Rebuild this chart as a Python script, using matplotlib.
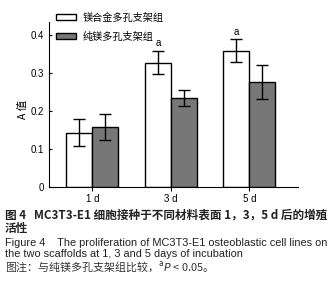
import numpy as np
import matplotlib
matplotlib.use("Agg")
import matplotlib.pyplot as plt
from matplotlib.patches import Patch

plt.rcParams["font.family"] = ["Liberation Sans", "Noto Sans CJK SC", "DejaVu Sans"]

days = ["1 d", "3 d", "5 d"]
groups = ["镁合金多孔支架组", "纯镁多孔支架组"]
alloy_mean = [0.143, 0.327, 0.358]
alloy_err = [0.035, 0.030, 0.030]
pure_mean = [0.158, 0.234, 0.276]
pure_err = [0.035, 0.020, 0.044]
sig = ["", "a", "a"]

fig = plt.figure(figsize=(3.36, 3.0), dpi=100)
ax = fig.add_axes([0.146, 0.377, 0.741, 0.55])

x = np.arange(1, len(days) + 1)
w = 0.33
ekw = dict(ecolor="black", elinewidth=1.0, capthick=1.0)
ax.bar(x - w / 2, alloy_mean, w, yerr=alloy_err, color="white", edgecolor="black",
       lw=1.0, capsize=4.5, error_kw=ekw)
ax.bar(x + w / 2, pure_mean, w, yerr=pure_err, color="#777777", edgecolor="black",
       lw=1.0, capsize=4.5, error_kw=ekw)
for xi, m, e, s in zip(x, alloy_mean, alloy_err, sig):
    if s:
        ax.annotate(s, (xi - w / 2, m + e), xytext=(0, 2), textcoords="offset points",
                    ha="center", va="bottom", fontsize=7)

ax.set_xlim(0.45, 3.62)
ax.set_ylim(0, 0.434)
ax.set_xticks(x)
ax.set_xticklabels(days, fontsize=7)
ax.set_yticks([0, 0.1, 0.2, 0.3, 0.4])
ax.set_yticklabels(["0", "0.1", "0.2", "0.3", "0.4"], fontsize=7)
ax.tick_params(axis="y", length=2, width=0.8, direction="in", pad=4)
ax.tick_params(axis="x", length=3, width=0.8, pad=2)
ax.spines["top"].set_visible(False)
ax.spines["right"].set_visible(False)
ax.set_ylabel("A 值", fontsize=7.5, family=["Noto Sans CJK SC", "DejaVu Sans"])
ax.yaxis.set_label_coords(-0.085, 0.47)

handles = [Patch(facecolor="white", edgecolor="black", lw=1.0),
           Patch(facecolor="#777777", edgecolor="black", lw=1.0)]
ax.legend(handles, groups, loc="upper left", bbox_to_anchor=(0.168, 0.958),
          bbox_transform=fig.transFigure, frameon=False, borderpad=0, borderaxespad=0,
          handlelength=1.9, handleheight=0.6, handletextpad=0.7, labelspacing=0.85,
          prop={"family": ["Noto Sans CJK SC"], "size": 7.3})

cj = ["Noto Sans CJK SC", "DejaVu Sans"]
fig.text(0.015, 0.283, "图 4   MC3T3-E1 细胞接种于不同材料表面 1，3，5 d 后的增殖", fontsize=8.4,
         family=cj, fontweight="bold", va="center", color="#222222")
fig.text(0.015, 0.237, "活性", fontsize=8.4, family=cj, fontweight="bold", va="center", color="#222222")
fig.text(0.015, 0.19, "Figure 4    The proliferation of MC3T3-E1 osteoblastic cell lines on",
         fontsize=7.95, family=["Liberation Sans"], va="center", color="#222222")
fig.text(0.015, 0.152, "the two scaffolds at 1, 3 and 5 days of incubation",
         fontsize=7.95, family=["Liberation Sans"], va="center", color="#222222")
fig.text(0.015, 0.112, "图注：与纯镁多孔支架组比较，$^{\\mathrm{a}}$$\\it{P}$ < 0.05。", fontsize=7.9,
         family=cj, va="center", color="#333333")

fig.savefig("out.png", dpi=100)
